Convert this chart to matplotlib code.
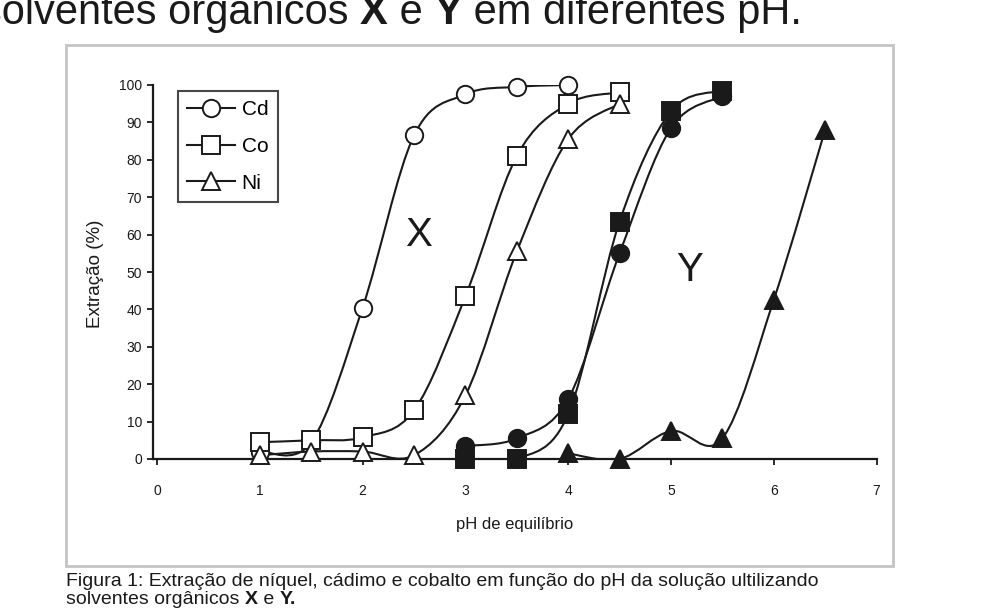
import numpy as np
import matplotlib
matplotlib.use('Agg')
import matplotlib.pyplot as plt
from matplotlib.path import Path
from matplotlib.patches import PathPatch, Rectangle
from matplotlib.lines import Line2D

plt.rcParams['font.family'] = ['Liberation Sans', 'DejaVu Sans']

# solvent X (open markers)
ph_cd_x = [1, 1.5, 2, 2.5, 3, 3.5, 4]
cd_x = [2, 4.5, 40.5, 86.5, 97.5, 99.5, 100]
ph_co_x = [1, 1.5, 2, 2.5, 3, 3.5, 4, 4.5]
co_x = [4.5, 5, 5.8, 13, 43.5, 81, 95, 98]
ph_ni_x = [1, 1.5, 2, 2.5, 3, 3.5, 4, 4.5]
ni_x = [1, 2, 2, 1, 17, 55.5, 85.5, 95]

# solvent Y (filled markers)
ph_cd_y = [3, 3.5, 4, 4.5, 5, 5.5]
cd_y = [3.5, 5.5, 16, 55, 88.5, 97]
ph_co_y = [3, 3.5, 4, 4.5, 5, 5.5]
co_y = [0, 0, 12, 63.5, 93, 98.5]
ph_ni_y = [4, 4.5, 5, 5.5, 6, 6.5]
ni_y = [1.5, 0, 7.5, 5.5, 42.5, 88]

y_ticks = list(range(0, 101, 10))
x_ticks = list(range(0, 8))
legend_labels = ['Cd', 'Co', 'Ni']


def smooth_path(xs, ys):
    # excel-like smoothed line (bezier through the points)
    pts = np.column_stack([xs, ys]).astype(float)
    n = len(pts)
    verts = [pts[0]]
    codes = [Path.MOVETO]
    for i in range(n - 1):
        p0 = pts[i - 1] if i > 0 else pts[i]
        p1 = pts[i]
        p2 = pts[i + 1]
        p3 = pts[i + 2] if i + 2 < n else pts[i + 1]
        verts += [p1 + (p2 - p0) / 6., p2 - (p3 - p1) / 6., p2]
        codes += [Path.CURVE4] * 3
    return Path(verts, codes)


W, H = 997, 614
fig = plt.figure(figsize=(W / 100., H / 100.), dpi=100)
ax = fig.add_axes([153 / W, 1 - 459 / H, (876.5 - 153) / W, (459 - 85) / H])

lc = '#1a1a1a'
series = [
    (ph_cd_x, cd_x, 'o', 'white'),
    (ph_co_x, co_x, 's', 'white'),
    (ph_ni_x, ni_x, '^', 'white'),
    (ph_cd_y, cd_y, 'o', lc),
    (ph_co_y, co_y, 's', lc),
    (ph_ni_y, ni_y, '^', lc),
]
for xs, ys, mk, fc in series:
    ax.add_patch(PathPatch(smooth_path(xs, ys), facecolor='none',
                           edgecolor=lc, lw=1.5, zorder=2))
for xs, ys, mk, fc in series:
    ms = 12.5 if mk != '^' else 13.5
    ax.plot(xs, ys, linestyle='none', marker=mk, ms=ms, mfc=fc, mec=lc,
            mew=1.4, zorder=3, clip_on=False)

ax.set_xlim(-0.04, 7)
ax.set_ylim(0, 100)
ax.set_xticks(x_ticks)
ax.set_yticks(y_ticks)
ax.spines['top'].set_visible(False)
ax.spines['right'].set_visible(False)
for s in ['left', 'bottom']:
    ax.spines[s].set_linewidth(1.6)
    ax.spines[s].set_color(lc)
ax.tick_params(axis='y', direction='out', length=4, width=1.3, labelsize=10,
               pad=4, colors=lc)
ax.tick_params(axis='x', direction='out', length=4, width=1.3, labelsize=10,
               pad=14, colors=lc)
ax.set_facecolor('none')

ax.text(2.54, 60, 'X', fontsize=29, ha='center', va='center', color=lc)
ax.text(5.18, 50.5, 'Y', fontsize=29, ha='center', va='center', color=lc)

fig.text(515 / W, 1 - 524 / H, 'pH de equilíbrio', fontsize=12,
         ha='center', va='center', color=lc)
fig.text(95 / W, 1 - 274 / H, 'Extração (%)', fontsize=13.5, rotation=90,
         ha='center', va='center', color=lc)

handles = [Line2D([], [], color=lc, lw=1.5, marker=m, ms=12.5, mfc='white',
                  mec=lc, mew=1.4) for m in ['o', 's', '^']]
leg = fig.legend(handles, legend_labels, loc='upper left',
                 bbox_to_anchor=(178 / W, 1 - 91 / H), fontsize=15,
                 frameon=True, fancybox=False, handlelength=2.3,
                 handletextpad=0.3, labelspacing=0.85, borderpad=0.45,
                 borderaxespad=0)
leg.get_frame().set_edgecolor(lc)
leg.get_frame().set_linewidth(1.5)

# grey frame round the chart
fig.patches.append(Rectangle((66 / W, 1 - 566 / H), (893 - 66) / W,
                             (566 - 45) / H, transform=fig.transFigure,
                             fill=False, edgecolor='#c4c4c4', lw=2))

renderer = fig.canvas.get_renderer()


def draw_pieces(x0, y0, pieces, size):
    x = x0
    for txt, bold in pieces:
        t = fig.text(x, y0, txt, fontsize=size, ha='left', va='baseline',
                     fontweight='bold' if bold else 'normal', color=lc)
        bb = t.get_window_extent(renderer)
        x += bb.width / W


draw_pieces(-19 / W, 1 - 24 / H,
            [('solventes orgânicos ', False), ('X', True), (' e ', False),
             ('Y', True), (' em diferentes pH.', False)], 30)
draw_pieces(66 / W, 1 - 586 / H,
            [('Figura 1: Extração de níquel, cádimo e cobalto em função do pH '
              'da solução ultilizando', False)], 14)
draw_pieces(66 / W, 1 - 604 / H,
            [('solventes orgânicos ', False), ('X', True), (' e ', False),
             ('Y.', True)], 14)

fig.savefig('out.png', dpi=100)
